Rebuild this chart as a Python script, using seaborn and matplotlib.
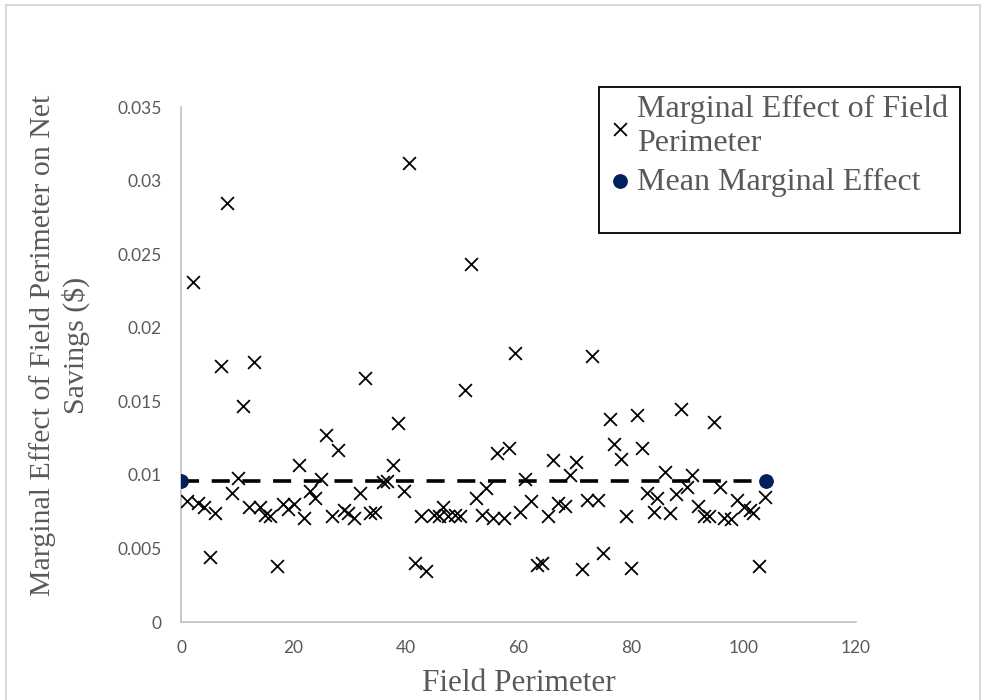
import matplotlib
matplotlib.use("Agg")
import matplotlib.pyplot as plt
import seaborn as sns
import pandas as pd
from matplotlib.ticker import FuncFormatter
from matplotlib.patches import Rectangle

# Marginal effect per field
perimeter = [1.0, 2.2, 3.1, 4.0, 5.2, 6.1, 7.1, 8.1, 9.1, 10.1,
             11.1, 12.1, 13.0, 14.0, 14.9, 15.8, 17.0, 18.2, 19.1, 20.1,
             20.9, 21.9, 22.9, 23.8, 24.8, 25.8, 26.9, 27.9, 28.9, 29.7,
             30.8, 31.8, 32.7, 33.6, 34.5, 35.9, 36.6, 37.6, 38.6, 39.7,
             40.6, 41.6, 42.7, 43.6, 44.9, 45.8, 46.5, 47.5, 48.7, 49.6,
             50.5, 51.5, 52.4, 53.5, 54.2, 55.5, 56.1, 57.4, 58.3, 59.3,
             60.3, 61.2, 62.3, 63.2, 64.1, 65.3, 66.2, 67.1, 68.3, 69.2,
             70.2, 71.2, 72.1, 73.0, 74.2, 75.1, 76.2, 77.0, 78.2, 79.1,
             80.0, 81.0, 82.0, 82.8, 84.0, 84.7, 86.0, 86.9, 88.0, 88.9,
             89.9, 90.9, 91.9, 92.9, 93.9, 94.8, 95.8, 96.6, 97.8, 98.8,
             100.0, 101.2, 101.7, 102.8, 103.8]
marginal_effect = [0.0082, 0.0231, 0.0081, 0.0078, 0.0044, 0.0074, 0.0174, 0.0285, 0.0088, 0.0098,
                   0.0147, 0.0078, 0.0177, 0.0078, 0.0073, 0.0072, 0.0038, 0.0080, 0.0077, 0.0080,
                   0.0107, 0.0071, 0.0089, 0.0084, 0.0097, 0.0127, 0.0072, 0.0117, 0.0076, 0.0074,
                   0.0071, 0.0088, 0.0166, 0.0074, 0.0075, 0.0095, 0.0096, 0.0107, 0.0135, 0.0089,
                   0.0312, 0.0040, 0.0072, 0.0035, 0.0073, 0.0072, 0.0078, 0.0072, 0.0073, 0.0072,
                   0.0158, 0.0243, 0.0084, 0.0073, 0.0091, 0.0071, 0.0115, 0.0071, 0.0118, 0.0183,
                   0.0075, 0.0097, 0.0082, 0.0039, 0.0040, 0.0072, 0.0110, 0.0081, 0.0079, 0.0100,
                   0.0109, 0.0036, 0.0083, 0.0181, 0.0083, 0.0047, 0.0138, 0.0121, 0.0111, 0.0072,
                   0.0037, 0.0141, 0.0118, 0.0088, 0.0075, 0.0084, 0.0102, 0.0074, 0.0087, 0.0145,
                   0.0092, 0.0100, 0.0079, 0.0072, 0.0072, 0.0136, 0.0092, 0.0071, 0.0070, 0.0083,
                   0.0078, 0.0076, 0.0074, 0.0038, 0.0085]

# Mean marginal effect line end points
mean_x = [0, 104]
mean_y = [0.0096, 0.0096]

points = pd.DataFrame({'x': perimeter, 'y': marginal_effect})
mean_df = pd.DataFrame({'x': mean_x, 'y': mean_y})

sns.set_style('white')
plt.rcParams['font.family'] = ['Liberation Serif', 'DejaVu Serif']

fig = plt.figure(figsize=(9.86, 7), dpi=100)
ax = fig.add_axes([0.1836, 0.1114, 0.6846, 0.7357])

sns.lineplot(data=mean_df, x='x', y='y', ax=ax, color='black', lw=2.6,
             dashes=False, linestyle=(0, (5, 3.5)), zorder=2)
sns.scatterplot(data=points, x='x', y='y', ax=ax, marker='x', color='black',
                s=85, linewidth=1.3, zorder=3, label='Marginal Effect of Field\nPerimeter')
sns.scatterplot(data=mean_df, x='x', y='y', ax=ax, marker='o', color='#002060',
                edgecolor='#001a4d', s=95, linewidth=0.8, zorder=4, label='Mean Marginal Effect')

ax.set_xlim(0, 120)
ax.set_ylim(0, 0.035)
ax.set_xticks(range(0, 121, 20))
ax.set_yticks([i * 0.005 for i in range(8)])
ax.yaxis.set_major_formatter(FuncFormatter(lambda v, p: f'{v:.3f}'.rstrip('0').rstrip('.') if v else '0'))

for lab in ax.get_xticklabels() + ax.get_yticklabels():
    lab.set_fontfamily('Lato')
    lab.set_fontsize(12.5)
    lab.set_color('#595959')
ax.tick_params(axis='y', length=0, pad=14)
ax.tick_params(axis='x', length=0, pad=13)

ax.set_xlabel('Field Perimeter', fontsize=22.5, color='#595959', va='center')
ax.xaxis.set_label_coords(0.5, -0.12)
ax.set_ylabel('Marginal Effect of Field Perimeter on Net\nSavings ($)', fontsize=21.5,
              color='#595959', linespacing=1.25, va='center')
ax.yaxis.set_label_coords(-0.18, 0.538)

for side in ['top', 'right']:
    ax.spines[side].set_visible(False)
for side in ['left', 'bottom']:
    ax.spines[side].set_color('#bfbfbf')
    ax.spines[side].set_linewidth(1.2)

handles, labels = ax.get_legend_handles_labels()
ax.legend_.remove()
fig.legend(handles, labels, loc='upper left', bbox_to_anchor=(0.601, 0.883),
           frameon=False, fontsize=23, labelcolor='#595959', handletextpad=0.1,
           handlelength=0.9, labelspacing=0.3, borderaxespad=0)
fig.patches.append(Rectangle((0.6075, 0.667), 0.366, 0.209, transform=fig.transFigure,
                             fill=False, edgecolor='black', linewidth=1.3))
fig.patches.append(Rectangle((0.006, -0.05), 0.988, 1.043, transform=fig.transFigure,
                             fill=False, edgecolor='#d9d9d9', linewidth=1.5))

plt.savefig('out.png', dpi=100)
